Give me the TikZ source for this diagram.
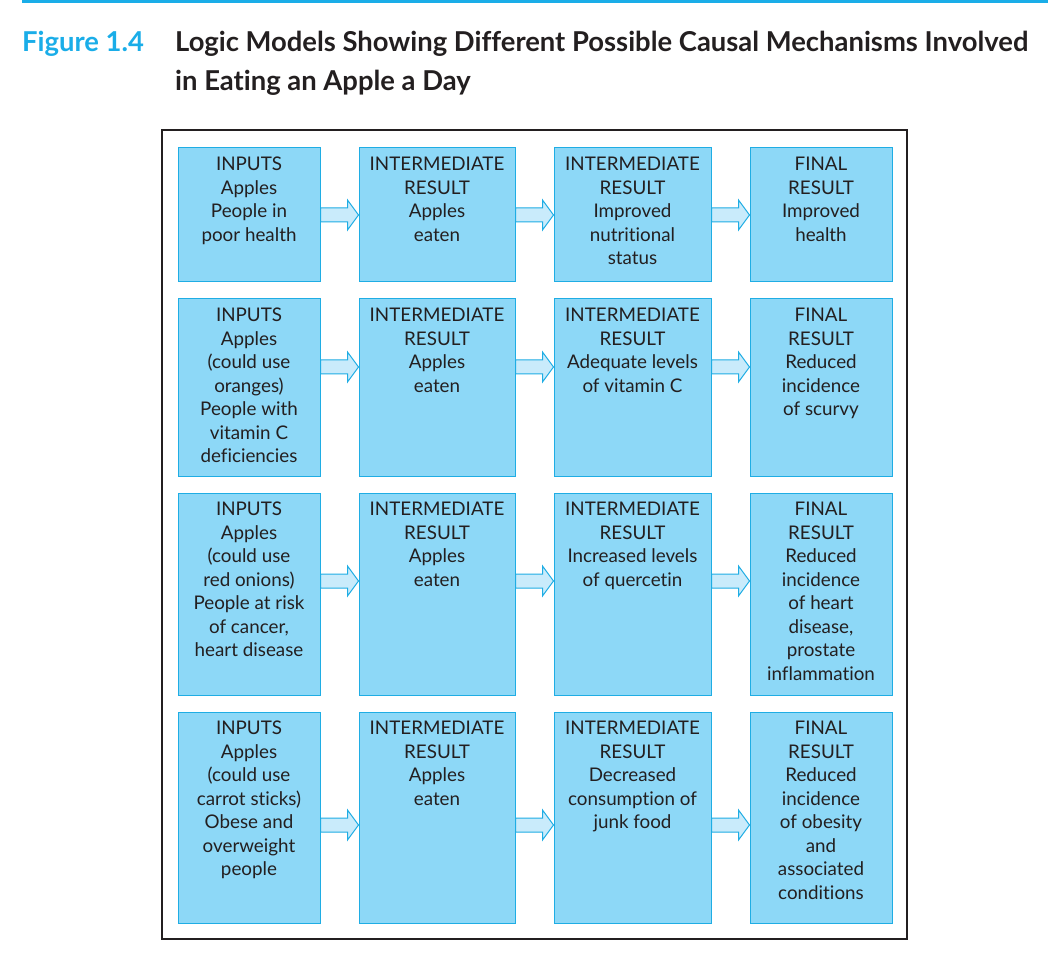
\documentclass[tikz,border=0pt]{standalone}
\usepackage{fontspec}
\setmainfont{Lato}[Ligatures={NoCommon}]
\usetikzlibrary{calc}
\definecolor{boxfill}{HTML}{8DD8F7}
\definecolor{boxline}{HTML}{1FADE4}
\definecolor{arrfill}{HTML}{C9EBFB}
\definecolor{figblue}{HTML}{1AADE8}
\definecolor{titleblack}{HTML}{231F20}
\tikzset{
  box/.style={draw=boxline, fill=boxfill, line width=1pt, inner sep=0pt},
  boxtext/.style={anchor=north, inner sep=0pt, align=center, text=titleblack,
    font={\fontsize{18.8}{23.5}\selectfont}},
  arr/.style={draw=boxline, fill=arrfill, line width=1pt, line join=miter},
  frame/.style={draw=titleblack, line width=1.3pt},
  titletext/.style={anchor=base west, inner sep=0pt, font={\fontsize{27.4}{32}\selectfont\bfseries}},
}
\newcommand{\blockarr}[3]{%
  \draw[arr] (#1.east |- 0,#3-7) -- ($(#2.west |- 0,#3-7)+(-11,0)$)
    -- ($(#2.west |- 0,#3-15)+(-11,0)$) -- (#2.west |- 0,#3)
    -- ($(#2.west |- 0,#3+15)+(-11,0)$) -- ($(#2.west |- 0,#3+7)+(-11,0)$)
    -- (#1.east |- 0,#3+7) -- cycle;}
\begin{document}
\begin{tikzpicture}[x=1pt,y=-1pt]
\useasboundingbox (0,0) rectangle (1060,973);
% header rule
\coordinate (ruleL) at (22,1.5);
\coordinate (ruleR) at (1048,1.5);
\draw[figblue, line width=3pt] (ruleL) -- (ruleR);
\node[titletext, text=figblue] (fig) at (22,52) {Figure 1.4};
\node[titletext, text=titleblack] (t1) at (175,52) {Logic Models Showing Different Possible Causal Mechanisms Involved};
\node[titletext, text=titleblack] (t2) at (175,91) {in Eating an Apple a Day};
% frame
\node[frame, minimum width=745pt, minimum height=809pt, inner sep=0pt] (frm) at (534.5,534.5) {};
% boxes: columns c1 178-320, c2 359-515, c3 554-711, c4 750-892
\foreach \r/\top/\bot in {1/148/282, 2/299/476, 3/493/695, 4/712/923}{
  \node[box, minimum width=142pt, minimum height={\bot-\top}] (b\r1) at (249,{(\top+\bot)/2}) {};
  \node[box, minimum width=156pt, minimum height={\bot-\top}] (b\r2) at (437,{(\top+\bot)/2}) {};
  \node[box, minimum width=157pt, minimum height={\bot-\top}] (b\r3) at (632.5,{(\top+\bot)/2}) {};
  \node[box, minimum width=142pt, minimum height={\bot-\top}] (b\r4) at (821,{(\top+\bot)/2}) {};
}
% texts
\newcommand{\bt}[2]{\node[boxtext] (t#1) at ($(b#1.north)+(0,6.5)$) {\strut #2};}
\bt{11}{INPUTS\\Apples\\People in\\poor health}
\bt{12}{INTERMEDIATE\\RESULT\\Apples\\eaten}
\bt{13}{INTERMEDIATE\\RESULT\\Improved\\nutritional\\status}
\bt{14}{FINAL\\RESULT\\Improved\\health}
\bt{21}{INPUTS\\Apples\\(could use\\oranges)\\People with\\vitamin C\\deficiencies}
\bt{22}{INTERMEDIATE\\RESULT\\Apples\\eaten}
\bt{23}{INTERMEDIATE\\RESULT\\Adequate levels\\of vitamin C}
\bt{24}{FINAL\\RESULT\\Reduced\\incidence\\of scurvy}
\bt{31}{INPUTS\\Apples\\(could use\\red onions)\\People at risk\\of cancer,\\heart disease}
\bt{32}{INTERMEDIATE\\RESULT\\Apples\\eaten}
\bt{33}{INTERMEDIATE\\RESULT\\Increased levels\\of quercetin}
\bt{34}{FINAL\\RESULT\\Reduced\\incidence\\of heart\\disease,\\prostate\\inflammation}
\bt{41}{INPUTS\\Apples\\(could use\\carrot sticks)\\Obese and\\overweight\\people}
\bt{42}{INTERMEDIATE\\RESULT\\Apples\\eaten}
\bt{43}{INTERMEDIATE\\RESULT\\Decreased\\consumption of\\junk food}
\bt{44}{FINAL\\RESULT\\Reduced\\incidence\\of obesity\\and\\associated\\conditions}
% arrows
\blockarr{b11}{b12}{215}
\blockarr{b12}{b13}{215}
\blockarr{b13}{b14}{215}
\blockarr{b21}{b22}{367}
\blockarr{b22}{b23}{367}
\blockarr{b23}{b24}{367}
\blockarr{b31}{b32}{581}
\blockarr{b32}{b33}{581}
\blockarr{b33}{b34}{581}
\blockarr{b41}{b42}{825}
\blockarr{b42}{b43}{825}
\blockarr{b43}{b44}{825}
\end{tikzpicture}
\end{document}
